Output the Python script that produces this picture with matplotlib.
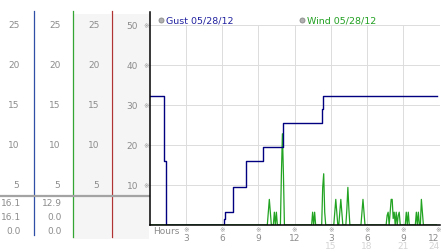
import matplotlib
matplotlib.use('Agg')
import matplotlib.pyplot as plt
import matplotlib.transforms as mtransforms
import numpy as np

# gust readings: hour of day, mph (drawn as steps)
gust_hours = [0.0, 1.20, 1.34, 6.17, 6.27, 6.89, 6.95, 8.0, 9.42, 11.03, 14.30, 14.39, 23.78]
gust_mph = [16.1, 8.0, 0.0, 0.8, 1.6, 3.2, 4.7, 8.0, 9.7, 12.8, 14.5, 16.1, 16.1]

# wind logged every 5 minutes, calm (0.0) except the readings below
wind_samples = 286
wind_idx = [118, 119, 120, 124, 126, 131, 132, 133, 162, 164, 172, 173, 174,
            184, 185, 186, 189, 190, 191, 196, 197, 198, 211, 212, 213,
            236, 237, 239, 240, 241, 242, 243, 245, 247, 248,
            255, 257, 265, 267, 270, 271]
wind_vals = [1.6, 3.2, 1.6, 1.6, 1.6, 6.4, 11.4, 6.4, 1.6, 1.6, 4.7, 6.4, 1.6,
             1.6, 3.2, 1.6, 1.6, 3.2, 1.6, 2.0, 4.7, 2.0, 1.6, 3.2, 1.6,
             1.2, 1.6, 1.6, 3.2, 3.2, 0.8, 1.6, 1.6, 1.2, 1.6,
             1.6, 1.6, 1.6, 1.6, 3.2, 1.6]

col_ticks = [5, 10, 15, 20, 25]
col_labels = ['5', '10', '15', '20', '25']
main_labels = ['10', '20', '30', '40', '50']
hour_ticks = [3, 6, 9, 12, 15, 18, 21, 24]
hour_labels = ['3', '6', '9', '12', '3', '6', '9', '12']
pm_ticks = [15, 18, 21, 24]
pm_labels = ['15', '18', '21', '24']
gust_stats = ['16.1', '16.1', '0.0']
wind_stats = ['12.9', '0.0', '0.0']

GUST = '#000080'
WIND = '#22a322'
GRID = '#dcdcdc'
LBL = '#8c8c8c'
FS = 6.5

W, H = 442, 253
fig = plt.figure(figsize=(W / 100, H / 100), dpi=100)
fig.patch.set_facecolor('white')

# layout layer in pixel coordinates
lay = fig.add_axes([0, 0, 1, 1])
lay.set_xlim(0, W)
lay.set_ylim(H, 0)
lay.axis('off')
lay.fill_between([73, 110.5], 15, 240, color='#f5f5f5', lw=0)
lay.fill_between([112, 148.5], 15, 240, color='#f5f5f5', lw=0)
lay.plot([33.5, 33.5], [12, 236], color='#2f4fa6', lw=0.9)
lay.plot([72.5, 72.5], [12, 238], color='#33a533', lw=0.9)
lay.plot([111.5, 111.5], [12, 238], color='#b03333', lw=0.9)
lay.plot([0, 149], [197, 197], color='#a3a3a3', lw=1.6)

for i, (g, w) in enumerate(zip(gust_stats, wind_stats)):
    y = 204 + i * 13.8
    lay.text(21, y, g, ha='right', va='center', fontsize=FS, color=LBL)
    lay.text(62, y, w, ha='right', va='center', fontsize=FS, color=LBL)

# main chart
ax = fig.add_axes([149.5 / W, (H - 226) / H, 290 / W, 213 / H])
ax.patch.set_alpha(0)
ax.set_xlim(0, 24)
ax.set_ylim(0, 26.6)

wind = np.zeros(wind_samples)
wind[wind_idx] = wind_vals
wind_hours = np.arange(wind_samples) / 12.0

for v in col_ticks:
    ax.axhline(v, color=GRID, lw=0.7, zorder=0)
ax.vlines(hour_ticks[:-1], 0, 25, color=GRID, lw=0.7, zorder=0)

ax.plot(wind_hours, wind, color=WIND, lw=0.9, zorder=2)
ax.plot(gust_hours, gust_mph, drawstyle='steps-post', color=GUST, lw=1.0, zorder=2.2)

for s in ['top', 'right']:
    ax.spines[s].set_visible(False)
for s in ['left', 'bottom']:
    ax.spines[s].set_color('black')
    ax.spines[s].set_linewidth(1.1)
    ax.spines[s].set_zorder(3)

ax.set_yticks(col_ticks, labels=main_labels)
ax.set_xticks(hour_ticks, labels=hour_labels)
ax.tick_params(axis='y', length=0, pad=8.3, labelsize=FS, labelcolor=LBL)
ax.tick_params(axis='x', length=0, pad=5.6, labelsize=FS, labelcolor=LBL)
ax.get_xticklabels()[-1].set_ha('right')

# side columns share the y scale of the chart
side = mtransforms.blended_transform_factory(lay.transData, ax.transData)
for v, lab in zip(col_ticks, col_labels):
    for xr in [19.5, 60.5, 99.5]:
        lay.text(xr, v, lab, transform=side, ha='right', va='center',
                 fontsize=FS, color=LBL)
    ax.text(-0.011, v, '\u203b', transform=ax.get_yaxis_transform(),
            ha='center', va='center', fontsize=4.8, color='#9a9a9a')

for h in hour_ticks:
    ax.text(h - (0.12 if h == 24 else 0), -0.021, '\u203b',
            transform=ax.get_xaxis_transform(),
            ha='center', va='center', fontsize=4.8, color='#9a9a9a', clip_on=False)
for h, lab in zip(pm_ticks, pm_labels):
    ax.text(h, -0.097, lab, transform=ax.get_xaxis_transform(),
            ha='right' if h == 24 else 'center', va='center',
            fontsize=FS, color='#d4d4d4', clip_on=False)
ax.text(0.014, -0.028, 'Hours', transform=ax.transAxes, ha='left', va='center',
        fontsize=FS, color=LBL)

# legend
lay.plot([160.5], [20.5], 'o', ms=3.6, mfc='#b0b0b0', mec='#8a8a8a', mew=0.6)
lay.text(166, 20.5, 'Gust 05/28/12', ha='left', va='center', fontsize=6.8, color='#2222a0')
lay.plot([301.5], [20.5], 'o', ms=3.6, mfc='#b0b0b0', mec='#8a8a8a', mew=0.6)
lay.text(307, 20.5, 'Wind 05/28/12', ha='left', va='center', fontsize=6.8, color='#22a022')

fig.savefig('out.png', dpi=100, facecolor='white')
